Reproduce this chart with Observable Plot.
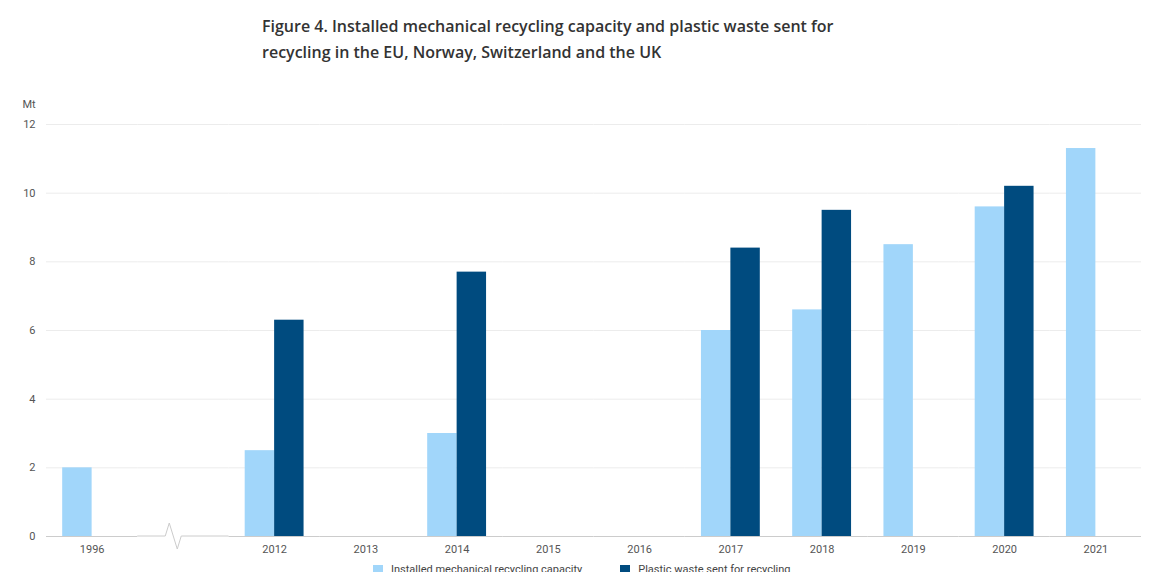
<!DOCTYPE html>
<html>
<head>
<meta charset="utf-8">
<script src="https://cdn.jsdelivr.net/npm/d3@7"></script>
<script src="https://cdn.jsdelivr.net/npm/@observablehq/plot@0.6"></script>
<style>
  body { margin: 0; background: #fff; }
  #title { margin: 13px 0 0 262px; font-family: "Open Sans", sans-serif; font-weight: 600; font-size: 16px; line-height: 26px; color: #333; width: 620px; }
  #chart { margin-top: 15px; }
  #chart svg { display: block; }
  #legend { padding-left: 373px; font-family: Roboto, sans-serif; font-size: 11px; line-height: 14px; color: #444; white-space: nowrap; }
  .item { display: inline-flex; align-items: center; margin-right: 38px; }
  .sw { width: 10px; height: 10px; display: inline-block; margin-right: 8px; }
</style>
</head>
<body>
<div id="title">Figure 4. Installed mechanical recycling capacity and plastic waste sent for recycling in the EU, Norway, Switzerland and the UK</div>
<div id="chart"></div>
<div id="legend"></div>
<script>
const years = ["1996", "gap", "2012", "2013", "2014", "2015", "2016", "2017", "2018", "2019", "2020", "2021"];
const capacity = [2.0, null, 2.5, null, 3.0, null, null, 6.0, 6.6, 8.5, 9.6, 11.3];
const sentForRecycling = [null, null, 6.3, null, 7.7, null, null, 8.4, 9.5, null, 10.2, null];
const seriesNames = ["Installed mechanical recycling capacity", "Plastic waste sent for recycling"];
const seriesColors = ["#a1d6fa", "#004b7f"];
const yTicks = [0, 2, 4, 6, 8, 10, 12];
const yUnit = "Mt";

const rows = [];
years.forEach((yr, i) => {
  if (capacity[i] != null) rows.push({year: yr, series: seriesNames[0], value: capacity[i]});
  if (sentForRecycling[i] != null) rows.push({year: yr, series: seriesNames[1], value: sentForRecycling[i]});
});
const gridRows = d3.cross(years, yTicks.filter(t => t > 0));
const axisYears = years.filter(y => y !== "gap");

const W = 1153, ML = 46, MR = 12, MT = 44, MB = 27, H = 483;
const plot = Plot.plot({
  width: W,
  height: H,
  marginLeft: ML,
  marginRight: MR,
  marginTop: MT,
  marginBottom: MB,
  style: {fontFamily: "Roboto, sans-serif", fontSize: "11px", color: "#555", background: "#fff"},
  fx: {domain: years, padding: 0, round: false, label: null, axis: null},
  x: {domain: seriesNames, axis: null, paddingInner: 0, paddingOuter: 0.55, round: false},
  y: {domain: [0, 12], axis: null},
  color: {domain: seriesNames, range: seriesColors},
  marks: [
    Plot.ruleY(gridRows, {fx: d => d[0], y: d => d[1], stroke: "#ececec", strokeWidth: 1}),
    Plot.barY(rows, {fx: "year", x: "series", y: "value", fill: "series"}),
    Plot.ruleY(axisYears, {fx: d => d, y: () => 0, stroke: "#cccccc", strokeWidth: 1}),
    Plot.axisY({ticks: yTicks, tickSize: 0, tickPadding: 11, label: null, fontSize: 11}),
    Plot.axisFx({anchor: "bottom", tickSize: 0, tickPadding: 9, label: null, fontSize: 11,
      tickFormat: d => d === "gap" ? "" : d}),
    Plot.text([yUnit], {fx: () => "1996", frameAnchor: "top-left", dx: -24, dy: -20, textAnchor: "start", lineAnchor: "middle", fontSize: 11})
  ]
});
document.getElementById("chart").appendChild(plot);

// axis break glyph in the gap slot
let gx, bw, y0;
try {
  const fxs = plot.scale("fx");
  gx = fxs.apply("gap");
  bw = fxs.bandwidth != null ? fxs.bandwidth : fxs.step;
} catch (e) {}
const step = (W - ML - MR) / years.length;
if (!isFinite(gx)) gx = ML + years.indexOf("gap") * step;
else if (gx < ML + step * 0.5) gx += ML;
if (!isFinite(bw)) bw = step;
try { y0 = plot.scale("y").apply(0); } catch (e) {}
if (!isFinite(y0)) y0 = H - MB;
const pts = [[gx, y0], [gx + 28, y0], [gx + 32, y0 - 13], [gx + 40, y0 + 13], [gx + 44, y0], [gx + bw, y0]];
d3.select(plot).append("path")
  .attr("d", d3.line()(pts))
  .attr("fill", "none")
  .attr("stroke", "#cccccc")
  .attr("stroke-width", 1);

const legend = d3.select("#legend");
seriesNames.forEach((name, i) => {
  const it = legend.append("span").attr("class", "item");
  it.append("span").attr("class", "sw").style("background", seriesColors[i]);
  it.append("span").text(name);
});
</script>
</body>
</html>
